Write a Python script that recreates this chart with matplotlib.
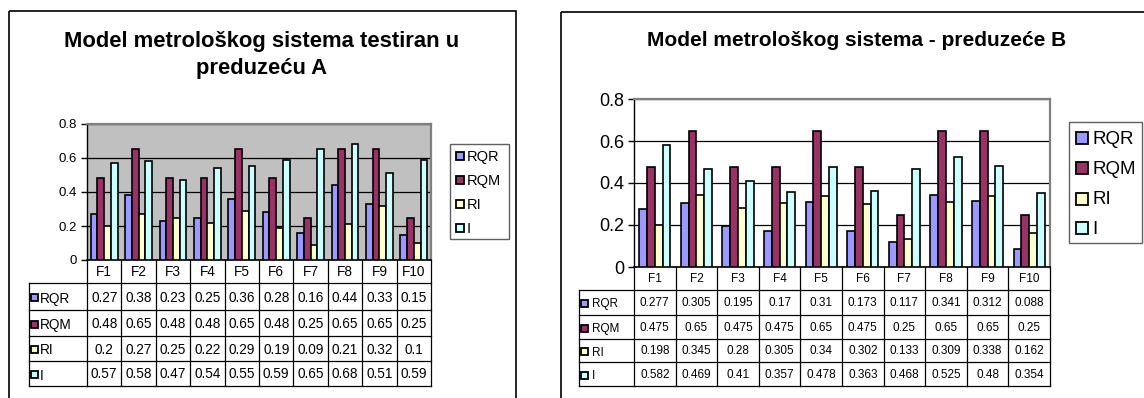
import matplotlib
matplotlib.use("Agg")
import matplotlib.pyplot as plt
from matplotlib.patches import Rectangle
from matplotlib.lines import Line2D
from matplotlib.transforms import Affine2D, blended_transform_factory

plt.rcParams['font.family'] = ['Liberation Sans', 'DejaVu Sans']

categories = ['F1', 'F2', 'F3', 'F4', 'F5', 'F6', 'F7', 'F8', 'F9', 'F10']
series = ['RQR', 'RQM', 'RI', 'I']
colors = ['#9999FF', '#993366', '#FFFFCC', '#CCFFFF']

a_rqr = [0.27, 0.38, 0.23, 0.25, 0.36, 0.28, 0.16, 0.44, 0.33, 0.15]
a_rqm = [0.48, 0.65, 0.48, 0.48, 0.65, 0.48, 0.25, 0.65, 0.65, 0.25]
a_ri = [0.2, 0.27, 0.25, 0.22, 0.29, 0.19, 0.09, 0.21, 0.32, 0.1]
a_i = [0.57, 0.58, 0.47, 0.54, 0.55, 0.59, 0.65, 0.68, 0.51, 0.59]

b_rqr = [0.277, 0.305, 0.195, 0.17, 0.31, 0.173, 0.117, 0.341, 0.312, 0.088]
b_rqm = [0.475, 0.65, 0.475, 0.475, 0.65, 0.475, 0.25, 0.65, 0.65, 0.25]
b_ri = [0.198, 0.345, 0.28, 0.305, 0.34, 0.302, 0.133, 0.309, 0.338, 0.162]
b_i = [0.582, 0.469, 0.41, 0.357, 0.478, 0.363, 0.468, 0.525, 0.48, 0.354]

title_a = 'Model metrološkog sistema testiran u\npreduzeću A'
title_b = 'Model metrološkog sistema - preduzeće B'
yticks = [0, 0.2, 0.4, 0.6, 0.8]

W, H = 1144, 398
fig = plt.figure(figsize=(W / 100, H / 100), dpi=100)
PX = Affine2D().scale(1.0 / W, -1.0 / H).translate(0, 1) + fig.transFigure


def axes_px(x0, y0, x1, y1):
    return fig.add_axes([x0 / W, 1 - y1 / H, (x1 - x0) / W, (y1 - y0) / H])


def panel(data, frame, title, title_xy, title_fs, ax_box, bg, tick_fs,
          rows_y, label_x0, table_fs, key_px, leg_box, leg_ys, leg_key, leg_fs, bw):
    fx0, fy0, fx1, fy1 = frame
    fig.add_artist(Rectangle((fx0, fy0), fx1 - fx0, fy1 - fy0, transform=PX,
                             fill=False, edgecolor='black', linewidth=1.2))
    fig.text(title_xy[0], title_xy[1], title, transform=PX, ha='center', va='center',
             fontsize=title_fs, fontweight='bold', linespacing=1.35)

    ax = axes_px(*ax_box)
    ax.set_facecolor(bg)
    n = len(categories)
    xs = list(range(n))
    for j, (vals, c) in enumerate(zip(data, colors)):
        ax.bar([x + (j - 1.5) * bw for x in xs], vals, width=bw, color=c,
               edgecolor='black', linewidth=1.2, zorder=3)
    ax.set_xlim(-0.5, n - 0.5)
    ax.set_ylim(0, 0.8)
    ax.set_yticks(yticks)
    ax.set_yticklabels([f'{t:g}' for t in yticks], fontsize=tick_fs)
    ax.set_xticks([])
    ax.yaxis.grid(True, color='black', linewidth=0.9, zorder=1)
    ax.set_axisbelow(True)
    ax.tick_params(axis='y', direction='out', length=4, width=1, pad=3)
    ax.spines['left'].set_color('black')
    ax.spines['bottom'].set_color('black')
    ax.spines['left'].set_linewidth(1.0)
    ax.spines['bottom'].set_linewidth(1.2)
    for s in ('top', 'right'):
        ax.spines[s].set_color('#808080')
        ax.spines[s].set_linewidth(1.6)

    # data table
    T = blended_transform_factory(ax.transData, PX)
    y_top, y_f = rows_y[0], rows_y[1]
    y_bot = rows_y[-1]
    lw = 0.9
    for k in range(n + 1):
        fig.add_artist(Line2D([k - 0.5, k - 0.5], [y_top, y_bot], transform=T,
                              color='black', linewidth=lw))
    for yy in rows_y[1:]:
        fig.add_artist(Line2D([-0.5, n - 0.5], [yy, yy], transform=T,
                              color='black', linewidth=lw))
        fig.add_artist(Line2D([label_x0, ax_box[0]], [yy, yy], transform=PX,
                              color='black', linewidth=lw))
    fig.add_artist(Line2D([label_x0, label_x0], [y_f, y_bot], transform=PX,
                          color='black', linewidth=lw))
    for i, cat in enumerate(categories):
        fig.text(i, (rows_y[0] + rows_y[1]) / 2 + 1, cat, transform=T,
                 ha='center', va='center', fontsize=table_fs)
    for r, (name, vals, c) in enumerate(zip(series, data, colors)):
        yc = (rows_y[r + 1] + rows_y[r + 2]) / 2 + 1
        kx0, ksz, tx = key_px
        fig.add_artist(Rectangle((label_x0 + kx0, yc - ksz / 2), ksz, ksz, transform=PX,
                                 facecolor=c, edgecolor='black', linewidth=1.3))
        fig.text(label_x0 + tx, yc + 1, name, transform=PX, ha='left', va='center',
                 fontsize=table_fs)
        for i, v in enumerate(vals):
            fig.text(i, yc, f'{v:g}', transform=T, ha='center', va='center',
                     fontsize=table_fs)

    # legend
    lx0, ly0, lx1, ly1 = leg_box
    fig.add_artist(Rectangle((lx0, ly0), lx1 - lx0, ly1 - ly0, transform=PX,
                             facecolor='white', edgecolor='#606060', linewidth=1.0))
    kx, ksz, tx = leg_key
    for name, c, yy in zip(series, colors, leg_ys):
        fig.add_artist(Rectangle((kx, yy - ksz / 2), ksz, ksz, transform=PX,
                                 facecolor=c, edgecolor='black', linewidth=1.3))
        fig.text(tx, yy + 1, name, transform=PX, ha='left', va='center', fontsize=leg_fs)
    return ax


panel([a_rqr, a_rqm, a_ri, a_i], frame=(9, 11, 516, 402), title=title_a,
      title_xy=(262, 55), title_fs=15.8, ax_box=(87, 124, 431, 260), bg='#C0C0C0',
      tick_fs=9.5, rows_y=[260, 283, 310, 336, 361, 386], label_x0=29, table_fs=9.8,
      key_px=(2, 7, 11), leg_box=(450, 144, 509, 239), leg_ys=[156, 180, 204, 228],
      leg_key=(456, 8, 467), leg_fs=10.5, bw=0.195)

panel([b_rqr, b_rqm, b_ri, b_i], frame=(561, 12, 1150, 402), title=title_b,
      title_xy=(857, 40), title_fs=15, ax_box=(634, 99, 1050, 267), bg='white',
      tick_fs=13, rows_y=[267, 290, 315, 339, 362, 386], label_x0=579, table_fs=8.5,
      key_px=(2, 7, 13), leg_box=(1069, 122, 1142, 243), leg_ys=[138, 168, 199, 228],
      leg_key=(1076, 12, 1092), leg_fs=13.5, bw=0.1875)

fig.savefig('out.png', dpi=100)
